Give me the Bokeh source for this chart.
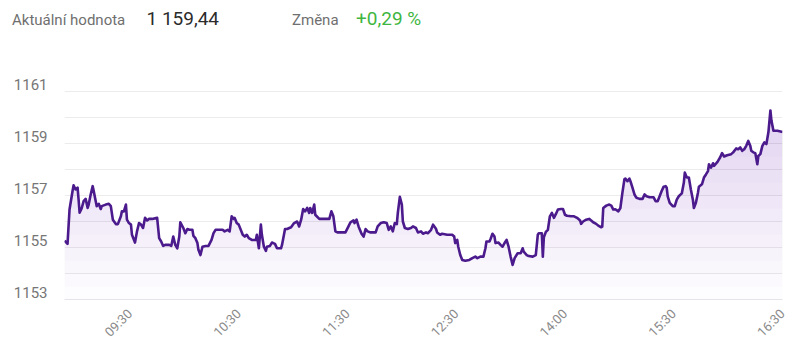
import math
from bokeh.plotting import figure
from bokeh.layouts import column
from bokeh.models import Range1d, FixedTicker
from bokeh.core.properties import value
from bokeh.embed import file_html
from bokeh.resources import INLINE

# ---- data (sample index along the session, index value) ----
sample_idx = [0, 3, 5, 8, 9, 11, 13, 14, 15, 17, 19, 21, 23, 24, 26, 28, 29, 31, 32, 34,
              36, 37, 41, 44, 46, 48, 51, 53, 56, 57, 59, 61, 62, 64, 66, 67, 70, 72, 74, 76,
              78, 80, 82, 84, 87, 92, 94, 96, 98, 100, 104, 106, 108, 110, 112, 114, 115, 118,
              120, 122, 124, 127, 128, 130, 132, 133, 135, 137, 140, 143, 146, 148, 150, 153,
              157, 159, 162, 164, 166, 168, 169, 171, 173, 177, 179, 181, 183, 186, 190, 191,
              193, 195, 196, 198, 200, 201, 204, 206, 209, 211, 215, 216, 219, 221, 225, 228,
              231, 233, 235, 237, 239, 241, 243, 244, 246, 248, 249, 253, 258, 263, 265, 267,
              269, 271, 276, 279, 282, 284, 287, 288, 290, 292, 295, 297, 299, 301, 304, 309,
              311, 314, 317, 320, 322, 324, 326, 328, 330, 331, 333, 335, 336, 338, 341, 344,
              346, 349, 351, 354, 356, 359, 361, 364, 366, 369, 370, 373, 375, 380, 385, 387,
              388, 390, 391, 393, 395, 398, 402, 405, 408, 410, 413, 416, 418, 419, 422, 423,
              425, 427, 428, 431, 433, 435, 437, 439, 441, 443, 445, 447, 450, 453, 455, 456,
              459, 461, 465, 468, 470, 471, 474, 475, 476, 478, 480, 482, 484, 486, 488, 490,
              493, 495, 497, 499, 503, 506, 509, 512, 513, 515, 518, 521, 523, 525, 528, 530,
              533, 534, 535, 538, 541, 543, 545, 547, 550, 552, 554, 556, 557, 559, 561, 562,
              564, 566, 568, 571, 574, 576, 578, 581, 585, 587, 589, 591, 593, 595, 597, 598,
              599, 601, 604, 606, 608, 610, 613, 615, 616, 618, 620, 622, 624, 625, 627, 629,
              630, 633, 635, 637, 639, 640, 642, 644, 645, 648, 649, 651, 653, 655, 658, 662,
              664, 667, 669, 671, 673, 675, 677, 679, 681, 682, 684, 686, 688, 689, 691, 693,
              695, 697, 699, 701, 702, 704, 708, 713]
price = [1155.26, 1155.14, 1156.46, 1157.17, 1157.39, 1157.23, 1157.30, 1156.84, 1156.34, 1156.50,
         1156.78, 1156.87, 1156.52, 1156.65, 1157.04, 1157.36, 1157.17, 1156.78, 1156.59, 1156.68,
         1156.48, 1156.59, 1156.65, 1156.68, 1156.59, 1156.07, 1155.90, 1155.90, 1156.20, 1156.39,
         1156.39, 1156.65, 1156.07, 1155.94, 1155.88, 1155.49, 1155.19, 1155.62, 1155.94, 1155.88,
         1155.75, 1156.14, 1156.04, 1156.10, 1156.10, 1156.14, 1155.36, 1155.23, 1155.06, 1155.10,
         1155.10, 1155.06, 1155.42, 1155.10, 1154.97, 1155.42, 1155.97, 1155.75,
         1155.55, 1155.71, 1155.68, 1155.68, 1155.45, 1155.36, 1155.17, 1154.91, 1154.71, 1155.03,
         1155.06, 1155.06, 1155.29, 1155.55, 1155.68, 1155.68, 1155.68, 1155.62, 1155.68, 1155.62,
         1156.20, 1156.10, 1156.14, 1155.94, 1155.88, 1155.49, 1155.42, 1155.49, 1155.36, 1155.29,
         1155.29, 1155.49, 1154.97, 1155.88, 1155.49, 1155.03, 1154.87, 1155.03, 1155.06, 1155.19,
         1155.14, 1154.97, 1154.97, 1155.10, 1155.71, 1155.71, 1155.78, 1155.94, 1156.00, 1155.81,
         1156.07, 1156.48, 1156.39, 1156.52, 1156.33, 1156.52, 1156.33, 1156.65, 1156.26, 1156.10,
         1156.10, 1156.10, 1156.39, 1156.20, 1155.62, 1155.58, 1155.58, 1155.58, 1155.81, 1155.97,
         1156.04, 1155.94, 1156.07, 1155.81, 1155.53, 1155.42, 1155.71, 1155.62, 1155.58, 1155.58,
         1155.81, 1155.94, 1155.97, 1155.94, 1155.68, 1155.81, 1155.62, 1155.94, 1155.90, 1156.33,
         1156.95, 1156.65, 1156.00, 1155.75, 1155.71, 1155.75, 1155.81, 1155.75, 1155.58, 1155.62,
         1155.53, 1155.58, 1155.55, 1155.68, 1155.88, 1155.71, 1155.58, 1155.49, 1155.53, 1155.49,
         1155.49, 1155.42, 1155.17, 1155.29, 1155.03, 1154.71, 1154.52, 1154.49, 1154.52, 1154.59,
         1154.65, 1154.59, 1154.65, 1154.65, 1154.97, 1155.23, 1155.23, 1155.32, 1155.53, 1155.42,
         1155.17, 1155.19, 1155.10, 1155.03, 1155.17, 1155.29, 1155.03, 1154.65, 1154.33, 1154.59,
         1154.78, 1154.78, 1154.97, 1154.84, 1154.71, 1154.67, 1154.65, 1154.71, 1155.49, 1155.55,
         1155.55, 1154.65, 1155.39, 1155.60, 1155.68, 1156.20, 1156.33, 1156.14, 1156.29, 1156.46,
         1156.48, 1156.48, 1156.26, 1156.22, 1156.20, 1156.20, 1156.14, 1156.04, 1155.91, 1156.00,
         1156.07, 1156.10, 1156.04, 1155.97, 1155.91, 1155.84, 1155.78, 1155.80, 1156.52, 1156.61,
         1156.65, 1156.61, 1156.46, 1156.47, 1156.39, 1156.52, 1157.10, 1157.62, 1157.65, 1157.55,
         1157.65, 1157.55, 1157.30, 1157.04, 1156.91, 1156.87, 1156.87, 1157.04, 1156.97, 1156.93,
         1156.93, 1156.78, 1156.78, 1156.97, 1157.17, 1157.34, 1157.36, 1157.30, 1156.97, 1156.72,
         1156.59, 1156.59, 1156.84, 1156.97, 1157.08, 1157.49, 1157.88, 1157.69, 1157.69, 1157.23,
         1156.84, 1156.52, 1156.72, 1157.10, 1157.34, 1157.43, 1157.69, 1157.81, 1157.94, 1158.20,
         1158.07, 1158.24, 1158.14, 1158.27, 1158.33, 1158.46, 1158.63, 1158.50, 1158.55, 1158.59,
         1158.66, 1158.81, 1158.78, 1158.85, 1158.72, 1158.78, 1158.91, 1159.10, 1158.91, 1158.72,
         1158.66, 1158.63, 1158.20, 1158.52, 1158.59, 1158.91, 1159.04, 1158.98, 1159.43, 1160.27,
         1159.88, 1159.49, 1159.49, 1159.44]

x_tick_idx = [65, 173, 281, 389, 497, 605, 713]
x_tick_labels = ["09:30", "10:30", "11:30", "12:30", "14:00", "15:30", "16:30"]
y_grid_values = list(range(1153, 1163))
y_label_values = [1153, 1155, 1157, 1159, 1161]

header_texts = ["Aktuální hodnota", "1 159,44", "Změna", "+0,29 %"]
header_colors = ["#6f6f6f", "#2b2b2b", "#6f6f6f", "#3fb63f"]
header_sizes = ["15px", "19px", "15px", "19px"]

# ---- header strip (its own small figure, pixel-like coordinates) ----
HEADER_H = 40
h = figure(width=792, height=HEADER_H, x_range=Range1d(0, 792), y_range=Range1d(HEADER_H, 0),
           output_backend="svg", toolbar_location=None,
           min_border_left=0, min_border_right=0, min_border_top=0, min_border_bottom=0)
h.frame_align = False
h.axis.visible = False
h.grid.visible = False
h.outline_line_color = None
header_x = [11.5, 146.0, 291.5, 355.5]
header_base = [19.5, 18.0, 19.5, 18.0]
for txt, col, size, hx, hy in zip(header_texts, header_colors, header_sizes, header_x, header_base):
    h.text(x=[hx], y=[hy], text=[txt], text_color=col, text_font=value("Roboto"),
           text_font_size=size, text_baseline="alphabetic", text_align="left")

# ---- main chart ----
p = figure(width=792, height=349 - HEADER_H, x_range=Range1d(0, 713), y_range=Range1d(1153, 1162),
           output_backend="svg", toolbar_location=None,
           min_border_left=64, min_border_right=10, min_border_top=65 - HEADER_H, min_border_bottom=50)
p.frame_align = False
p.outline_line_color = None
p.background_fill_color = "white"
p.border_fill_color = "white"

p.xgrid.visible = False
p.ygrid.ticker = FixedTicker(ticks=y_grid_values)
p.ygrid.grid_line_color = "#ececec"
p.ygrid.grid_line_width = 1

LABEL_SHIFT = 0.27
p.yaxis.ticker = FixedTicker(ticks=[v + LABEL_SHIFT for v in y_label_values])
p.yaxis.major_label_overrides = {v + LABEL_SHIFT: str(v) for v in y_label_values}
p.yaxis.axis_line_color = None
p.yaxis.major_tick_line_color = None
p.yaxis.minor_tick_line_color = None
p.yaxis.major_label_standoff = 11
p.yaxis.major_label_text_font = "Roboto"
p.yaxis.major_label_text_font_size = "15px"
p.yaxis.major_label_text_color = "#767676"

p.xaxis.ticker = FixedTicker(ticks=x_tick_idx)
p.xaxis.major_label_overrides = dict(zip(x_tick_idx, x_tick_labels))
p.xaxis.major_label_orientation = math.pi / 4
p.xaxis.axis_line_color = "#e4e4ea"
p.xaxis.major_tick_line_color = None
p.xaxis.minor_tick_line_color = None
p.xaxis.major_label_standoff = 6
p.xaxis.major_label_text_font = "Roboto"
p.xaxis.major_label_text_font_size = "13px"
p.xaxis.major_label_text_color = "#8a8a8a"

# gradient-like fill under the line: stacked translucent bands
levels = [1153 + 0.5 * k for k in range(18)]
for lv in levels:
    top = [max(v, lv) for v in price]
    p.varea(x=sample_idx, y1=[lv] * len(price), y2=top, fill_color="#6a2db8", fill_alpha=0.016)

p.line(sample_idx, price, line_color="#4b1a8c", line_width=2.6, line_join="round")

layout = column(h, p, spacing=0)
open("out.html", "w").write(file_html(layout, INLINE))
